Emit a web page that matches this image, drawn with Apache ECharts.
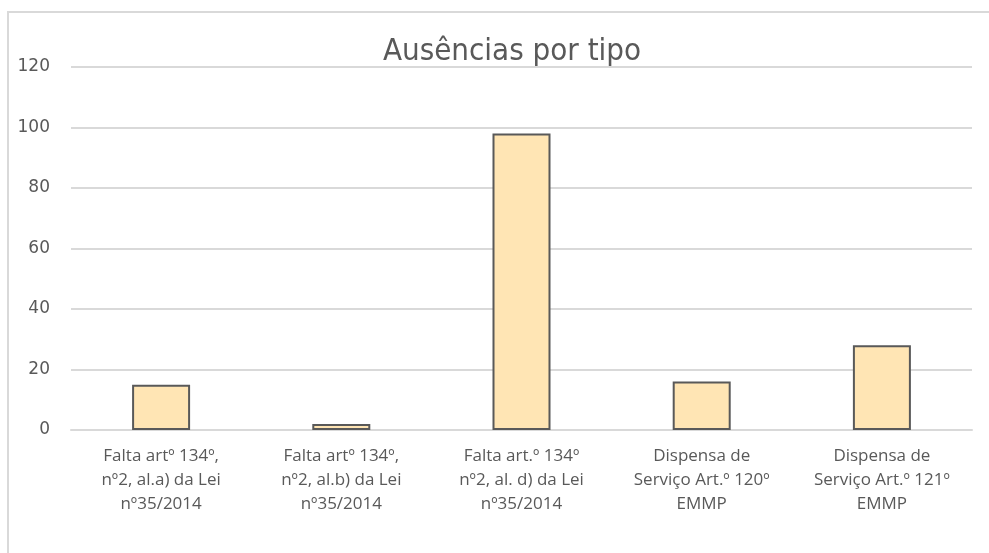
<!DOCTYPE html>
<html>
<head>
<meta charset="utf-8">
<script src="https://cdn.jsdelivr.net/npm/echarts@6/dist/echarts.min.js"></script>
<style>
  html, body { margin: 0; padding: 0; background: #fff; }
  #chart { width: 989px; height: 553px; }
</style>
</head>
<body>
<div id="chart"></div>
<script>
// categories (line breaks as in the source chart)
const categories = [
  'Falta artº 134º,\nnº2, al.a) da Lei\nnº35/2014',
  'Falta artº 134º,\nnº2, al.b) da Lei\nnº35/2014',
  'Falta art.º 134º\nnº2, al. d) da Lei\nnº35/2014',
  'Dispensa de\nServiço Art.º 120º\nEMMP',
  'Dispensa de\nServiço Art.º 121º\nEMMP'
]
const absences = [15, 2, 98, 16, 28]

const chart = echarts.init(document.getElementById('chart'))
chart.setOption({
  animation: false,
  graphic: [
    {
      type: 'rect',
      shape: { x: 8, y: 12, width: 1000, height: 600 },
      style: { fill: 'none', stroke: '#d9d9d9', lineWidth: 2 },
      silent: true
    }
  ],
  title: {
    text: 'Ausências por tipo',
    left: 507,
    textAlign: 'center',
    top: 31,
    textStyle: {
      fontFamily: '"Liberation Sans Narrow", "DejaVu Sans Condensed", sans-serif',
      fontWeight: 'normal',
      fontSize: 31,
      color: '#595959'
    }
  },
  grid: { left: 71, right: 17, top: 67, bottom: 123 },
  xAxis: {
    type: 'category',
    data: categories,
    axisLine: { show: true, lineStyle: { color: '#d9d9d9', width: 2 } },
    axisTick: { show: false },
    axisLabel: {
      interval: 0,
      margin: 14,
      fontFamily: 'Open Sans',
      fontSize: 17,
      lineHeight: 24,
      color: '#595959'
    }
  },
  yAxis: {
    type: 'value',
    min: 0,
    max: 120,
    interval: 20,
    axisLine: { show: false },
    axisTick: { show: false },
    splitLine: { lineStyle: { color: '#d9d9d9', width: 2 } },
    axisLabel: {
      margin: 21,
      fontFamily: '"DejaVu Sans", Verdana, sans-serif',
      fontSize: 17,
      color: '#595959'
    }
  },
  series: [
    {
      type: 'bar',
      data: absences,
      barWidth: 58,
      itemStyle: {
        color: '#ffe5b4',
        borderColor: '#595959',
        borderWidth: 2
      }
    }
  ]
})
</script>
</body>
</html>
